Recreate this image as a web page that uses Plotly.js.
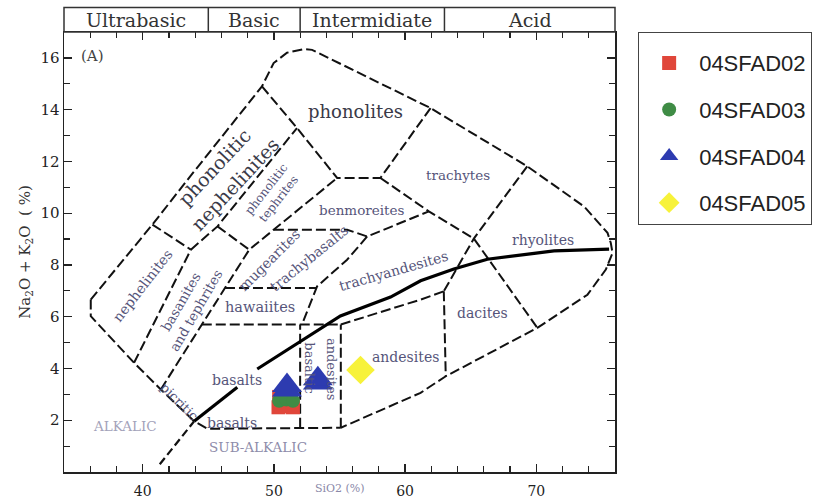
<!DOCTYPE html>
<html><head><meta charset="utf-8">
<script src="https://cdn.plot.ly/plotly-3.0.1.min.js"></script>
<style>html,body{margin:0;padding:0;background:#fff}#chart{width:825px;height:499px}</style>
</head><body><div id="chart"></div>
<script>
// ---- sample data (SiO2 %, Na2O+K2O %) ----
const seriesNames = ['04SFAD02', '04SFAD03', '04SFAD04', '04SFAD05'];
const sfad02SiO2 = [50.4, 50.35, 50.9, 51.45];
const sfad02Alk  = [2.9, 2.5, 2.55, 2.5];
const sfad03SiO2 = [50.4, 50.95, 51.45];
const sfad03Alk  = [2.75, 2.8, 2.75];
const sfad04SiO2 = [51.0, 51.0, 53.35, 53.35];
const sfad04Alk  = [3.17, 3.34, 3.44, 3.6];
const sfad05SiO2 = [56.6];
const sfad05Alk  = [3.94];

// ---- TAS field boundaries ----
const outerX = [36.04, 40.74, 43.62, 49.09, 49.98, 51.0, 52.27, 52.91, 61.94, 69.31, 73.64, 75.43, 75.68, 75.81, 75.3, 73.9, 70.08, 63.1, 61.18, 55.1];
const outerY = [6.66, 9.56, 11.42, 14.9, 15.8, 16.2, 16.34, 16.31, 14.06, 11.81, 10.26, 9.24, 8.85, 8.46, 7.82, 6.85, 5.57, 3.7, 3.06, 1.71];
const lowLeftX = [36.04, 36.04, 39.34, 41.38, 43.92, 44.94, 55.1];
const lowLeftY = [6.66, 6.02, 4.22, 3.19, 1.96, 1.67, 1.71];
const nephTopX = [40.74, 43.67];           const nephTopY = [9.56, 8.59];
const nephBasX = [39.34, 43.67];           const nephBasY = [4.22, 8.59];
const phNephX = [43.67, 45.70, 51.76];     const phNephY = [8.59, 9.49, 13.29];
const phonBaseX = [49.09, 51.76, 54.82, 58.12, 61.94]; const phonBaseY = [14.9, 13.29, 11.36, 11.36, 14.06];
const tephBotX = [45.70, 48.12];           const tephBotY = [9.49, 8.59];
const basRightX = [41.38, 48.12, 54.82];   const basRightY = [3.19, 8.59, 11.36];
const trachyBaseX = [58.12, 61.81, 65.24, 70.08]; const trachyBaseY = [11.36, 10.07, 9.02, 5.57];
const trachRhyX = [69.31, 65.24, 62.95];   const trachRhyY = [11.81, 9.02, 6.98];
const benBotX = [50.0, 55.58, 57.11, 61.81]; const benBotY = [9.36, 9.36, 9.1, 10.07];
const tbRightX = [57.11, 55.58, 53.29, 52.14]; const tbRightY = [9.1, 8.2, 7.17, 5.7];
const hawMugX = [46.27, 53.24];            const hawMugY = [7.11, 7.11];
const basTopX = [44.5, 55.1];              const basTopY = [5.7, 5.7];
const basDivX = [52.0, 52.0];              const basDivY = [1.71, 5.7];
const baDivX = [55.1, 55.1];               const baDivY = [1.71, 5.7];
const andTopX = [55.1, 61.18, 62.95];      const andTopY = [5.7, 6.66, 6.98];
const dacLeftX = [62.95, 63.1];            const dacLeftY = [6.98, 3.7];
// Irvine & Baragar alkalic / sub-alkalic divide
const ibDashX = [41.3, 43.92];             const ibDashY = [0.3, 1.96];
const ibX = [43.92, 47.21, null, 48.73, 52.02, 55.07, 58.89, 61.18, 63.72, 66.27, 71.35, 75.55];
const ibY = [1.96, 3.27, null, 3.98, 5.05, 6.03, 6.76, 7.39, 7.84, 8.22, 8.54, 8.61];

// ---- classes header ----
const classNames = ['Ultrabasic', 'Basic', 'Intermidiate', 'Acid'];
const classEdges = [34, 45, 52, 63, 76];

// ---- field labels ----
const fieldLabels = [
  {t: 'phonolites', x: 56.2, y: 13.92, a: 0, s: 18, c: '#3a3a48'},
  {t: 'phonolitic', x: 45.45, y: 11.8, a: -47, s: 19, c: '#3a3a48'},
  {t: 'nephelinites', x: 47.05, y: 11.12, a: -47, s: 19, c: '#3a3a48'},
  {t: 'phonolitic<br>tephrites', x: 49.9, y: 10.75, a: -52, s: 12, c: '#56557a'},
  {t: 'trachytes', x: 64.0, y: 11.46, a: 0, s: 13.5, c: '#56557a'},
  {t: 'benmoreites', x: 56.65, y: 10.14, a: 0, s: 13.5, c: '#56557a'},
  {t: 'mugearites', x: 49.65, y: 8.2, a: -45, s: 14, c: '#56557a'},
  {t: 'trachybasalts', x: 52.7, y: 8.28, a: -39, s: 14, c: '#56557a'},
  {t: 'trachyandesites', x: 59.08, y: 7.78, a: -16, s: 14, c: '#56557a'},
  {t: 'rhyolites', x: 70.5, y: 8.95, a: 0, s: 14, c: '#56557a'},
  {t: 'dacites', x: 65.9, y: 6.16, a: 0, s: 14, c: '#56557a'},
  {t: 'andesites', x: 60.03, y: 4.44, a: 0, s: 14, c: '#56557a'},
  {t: 'hawaiites', x: 48.96, y: 6.39, a: 0, s: 14.5, c: '#56557a'},
  {t: 'basalts', x: 47.2, y: 3.57, a: 0, s: 14, c: '#56557a'},
  {t: 'basaltic', x: 52.7, y: 4.03, a: 90, s: 13, c: '#56557a'},
  {t: 'andesites', x: 54.4, y: 3.96, a: 90, s: 13, c: '#56557a'},
  {t: 'nephelinites', x: 39.95, y: 7.2, a: -52, s: 14, c: '#56557a'},
  {t: 'basanites<br>and tephrites', x: 43.47, y: 6.43, a: -60, s: 13.5, c: '#56557a'},
  {t: 'picritic', x: 42.78, y: 2.73, a: 45, s: 13, c: '#56557a'},
  {t: 'basalts', x: 46.8, y: 1.9, a: 0, s: 14, c: '#56557a'},
  {t: 'ALKALIC', x: 38.66, y: 1.76, a: 0, s: 13.5, c: '#a3a2ba'},
  {t: 'SUB-ALKALIC', x: 48.8, y: 0.98, a: 0, s: 13.5, c: '#8e8caa'},
  {t: '(A)', x: 36.14, y: 16.08, a: 0, s: 15, c: '#444444'}
];

const dashLine = {color: '#111', width: 2, dash: '10px,4px'};
function bline(x, y, line) {
  return {x: x, y: y, mode: 'lines', type: 'scatter', line: line || dashLine,
          hoverinfo: 'skip', showlegend: false};
}
const traces = [
  bline(outerX, outerY), bline(lowLeftX, lowLeftY), bline(nephTopX, nephTopY),
  bline(nephBasX, nephBasY), bline(phNephX, phNephY), bline(phonBaseX, phonBaseY),
  bline(tephBotX, tephBotY), bline(basRightX, basRightY), bline(trachyBaseX, trachyBaseY),
  bline(trachRhyX, trachRhyY), bline(benBotX, benBotY), bline(tbRightX, tbRightY),
  bline(hawMugX, hawMugY), bline(basTopX, basTopY), bline(basDivX, basDivY),
  bline(baDivX, baDivY), bline(andTopX, andTopY), bline(dacLeftX, dacLeftY),
  bline(ibDashX, ibDashY, {color: '#111', width: 2.2, dash: '8px,4px'}),
  bline(ibX, ibY, {color: '#000', width: 3.2})
];
const seriesX = [sfad02SiO2, sfad03SiO2, sfad04SiO2, sfad05SiO2];
const seriesY = [sfad02Alk, sfad03Alk, sfad04Alk, sfad05Alk];
const seriesSym = ['square', 'circle', 'triangle-up', 'diamond'];
const seriesCol = ['#e0463a', '#3f8c45', '#2d3bb0', '#f7f23a'];
const seriesSize = [14, 14, 26, 22];
seriesNames.forEach(function (n, i) {
  traces.push({x: seriesX[i], y: seriesY[i], name: n, type: 'scatter', mode: 'markers',
    legendgroup: 'g' + i, cliponaxis: false,
    marker: {symbol: seriesSym[i], color: seriesCol[i], size: seriesSize[i], line: {width: 0}}});
});

const annotations = fieldLabels.map(function (f) {
  return {text: f.t, x: f.x, y: f.y, xref: 'x', yref: 'y', showarrow: false, textangle: f.a,
          xanchor: 'center', yanchor: 'middle',
          font: {family: 'DejaVu Serif', size: f.s, color: f.c}};
});
const hdrTop = 1.0557;
const shapes = [{type: 'rect', xref: 'paper', yref: 'paper', x0: 0, x1: 1, y0: 1, y1: hdrTop,
                 line: {color: '#333', width: 1.5}}];
classNames.forEach(function (c, i) {
  const a = (classEdges[i] - 34) / 42, b = (classEdges[i + 1] - 34) / 42;
  if (i > 0) shapes.push({type: 'line', xref: 'paper', yref: 'paper', x0: a, x1: a, y0: 1, y1: hdrTop,
                          line: {color: '#333', width: 1.5}});
  annotations.push({text: c, xref: 'paper', yref: 'paper', x: (a + b) / 2, y: (1 + hdrTop) / 2,
    xanchor: 'center', yanchor: 'middle', showarrow: false,
    font: {family: 'DejaVu Serif', size: 19, color: '#333'}});
});
annotations.push({text: 'SiO2 (%)', xref: 'paper', yref: 'paper', x: 0.5, y: -0.038,
  xanchor: 'center', yanchor: 'middle',
  showarrow: false, font: {family: 'DejaVu Serif', size: 11, color: '#8a88a8'}});

const layout = {
  width: 825, height: 499,
  margin: {l: 64, r: 210, t: 32, b: 27},
  paper_bgcolor: '#fff', plot_bgcolor: '#fff',
  showlegend: true,
  legend: {x: 1.042, y: 1.0, xanchor: 'left', yanchor: 'top', bordercolor: '#444', borderwidth: 1,
           font: {family: 'Liberation Sans', size: 22, color: '#222'}, tracegroupgap: 15,
           traceorder: 'grouped', itemwidth: 50,
           title: {text: ' ', font: {size: 7}}},
  xaxis: {range: [34, 76], tickmode: 'array', tickvals: [40, 50, 60, 70], ticks: 'inside', ticklen: 8,
          tickwidth: 1.3, tickcolor: '#222', showline: true, linecolor: '#222', linewidth: 1.5, mirror: 'ticks',
          showgrid: false, zeroline: false, ticklabelstandoff: 6,
          tickfont: {family: 'DejaVu Serif', size: 14, color: '#222'},
          minor: {tickmode: 'array', tickvals: [36, 38, 42, 44, 46, 48, 52, 54, 56, 58, 62, 64, 66, 68, 72, 74],
                  ticks: 'inside', ticklen: 6, tickcolor: '#222', tickwidth: 1.2}},
  yaxis: {range: [0, 17], tickmode: 'array', tickvals: [2, 4, 6, 8, 10, 12, 14, 16], ticks: 'inside', ticklen: 8,
          tickwidth: 1.3, tickcolor: '#222', showline: true, linecolor: '#222', linewidth: 1.5, mirror: 'ticks',
          showgrid: false, zeroline: false,
          tickfont: {family: 'DejaVu Serif', size: 15, color: '#222'},
          title: {text: 'Na<sub>2</sub>O + K<sub>2</sub>O  ( %)', font: {family: 'DejaVu Serif', size: 15, color: '#333'}, standoff: 6},
          minor: {tickmode: 'array', tickvals: [1, 3, 5, 7, 9, 11, 13, 15],
                  ticks: 'inside', ticklen: 6, tickcolor: '#222', tickwidth: 1.2}},
  shapes: shapes,
  annotations: annotations
};
Plotly.newPlot('chart', traces, layout, {displayModeBar: false, staticPlot: true});
</script></body></html>
